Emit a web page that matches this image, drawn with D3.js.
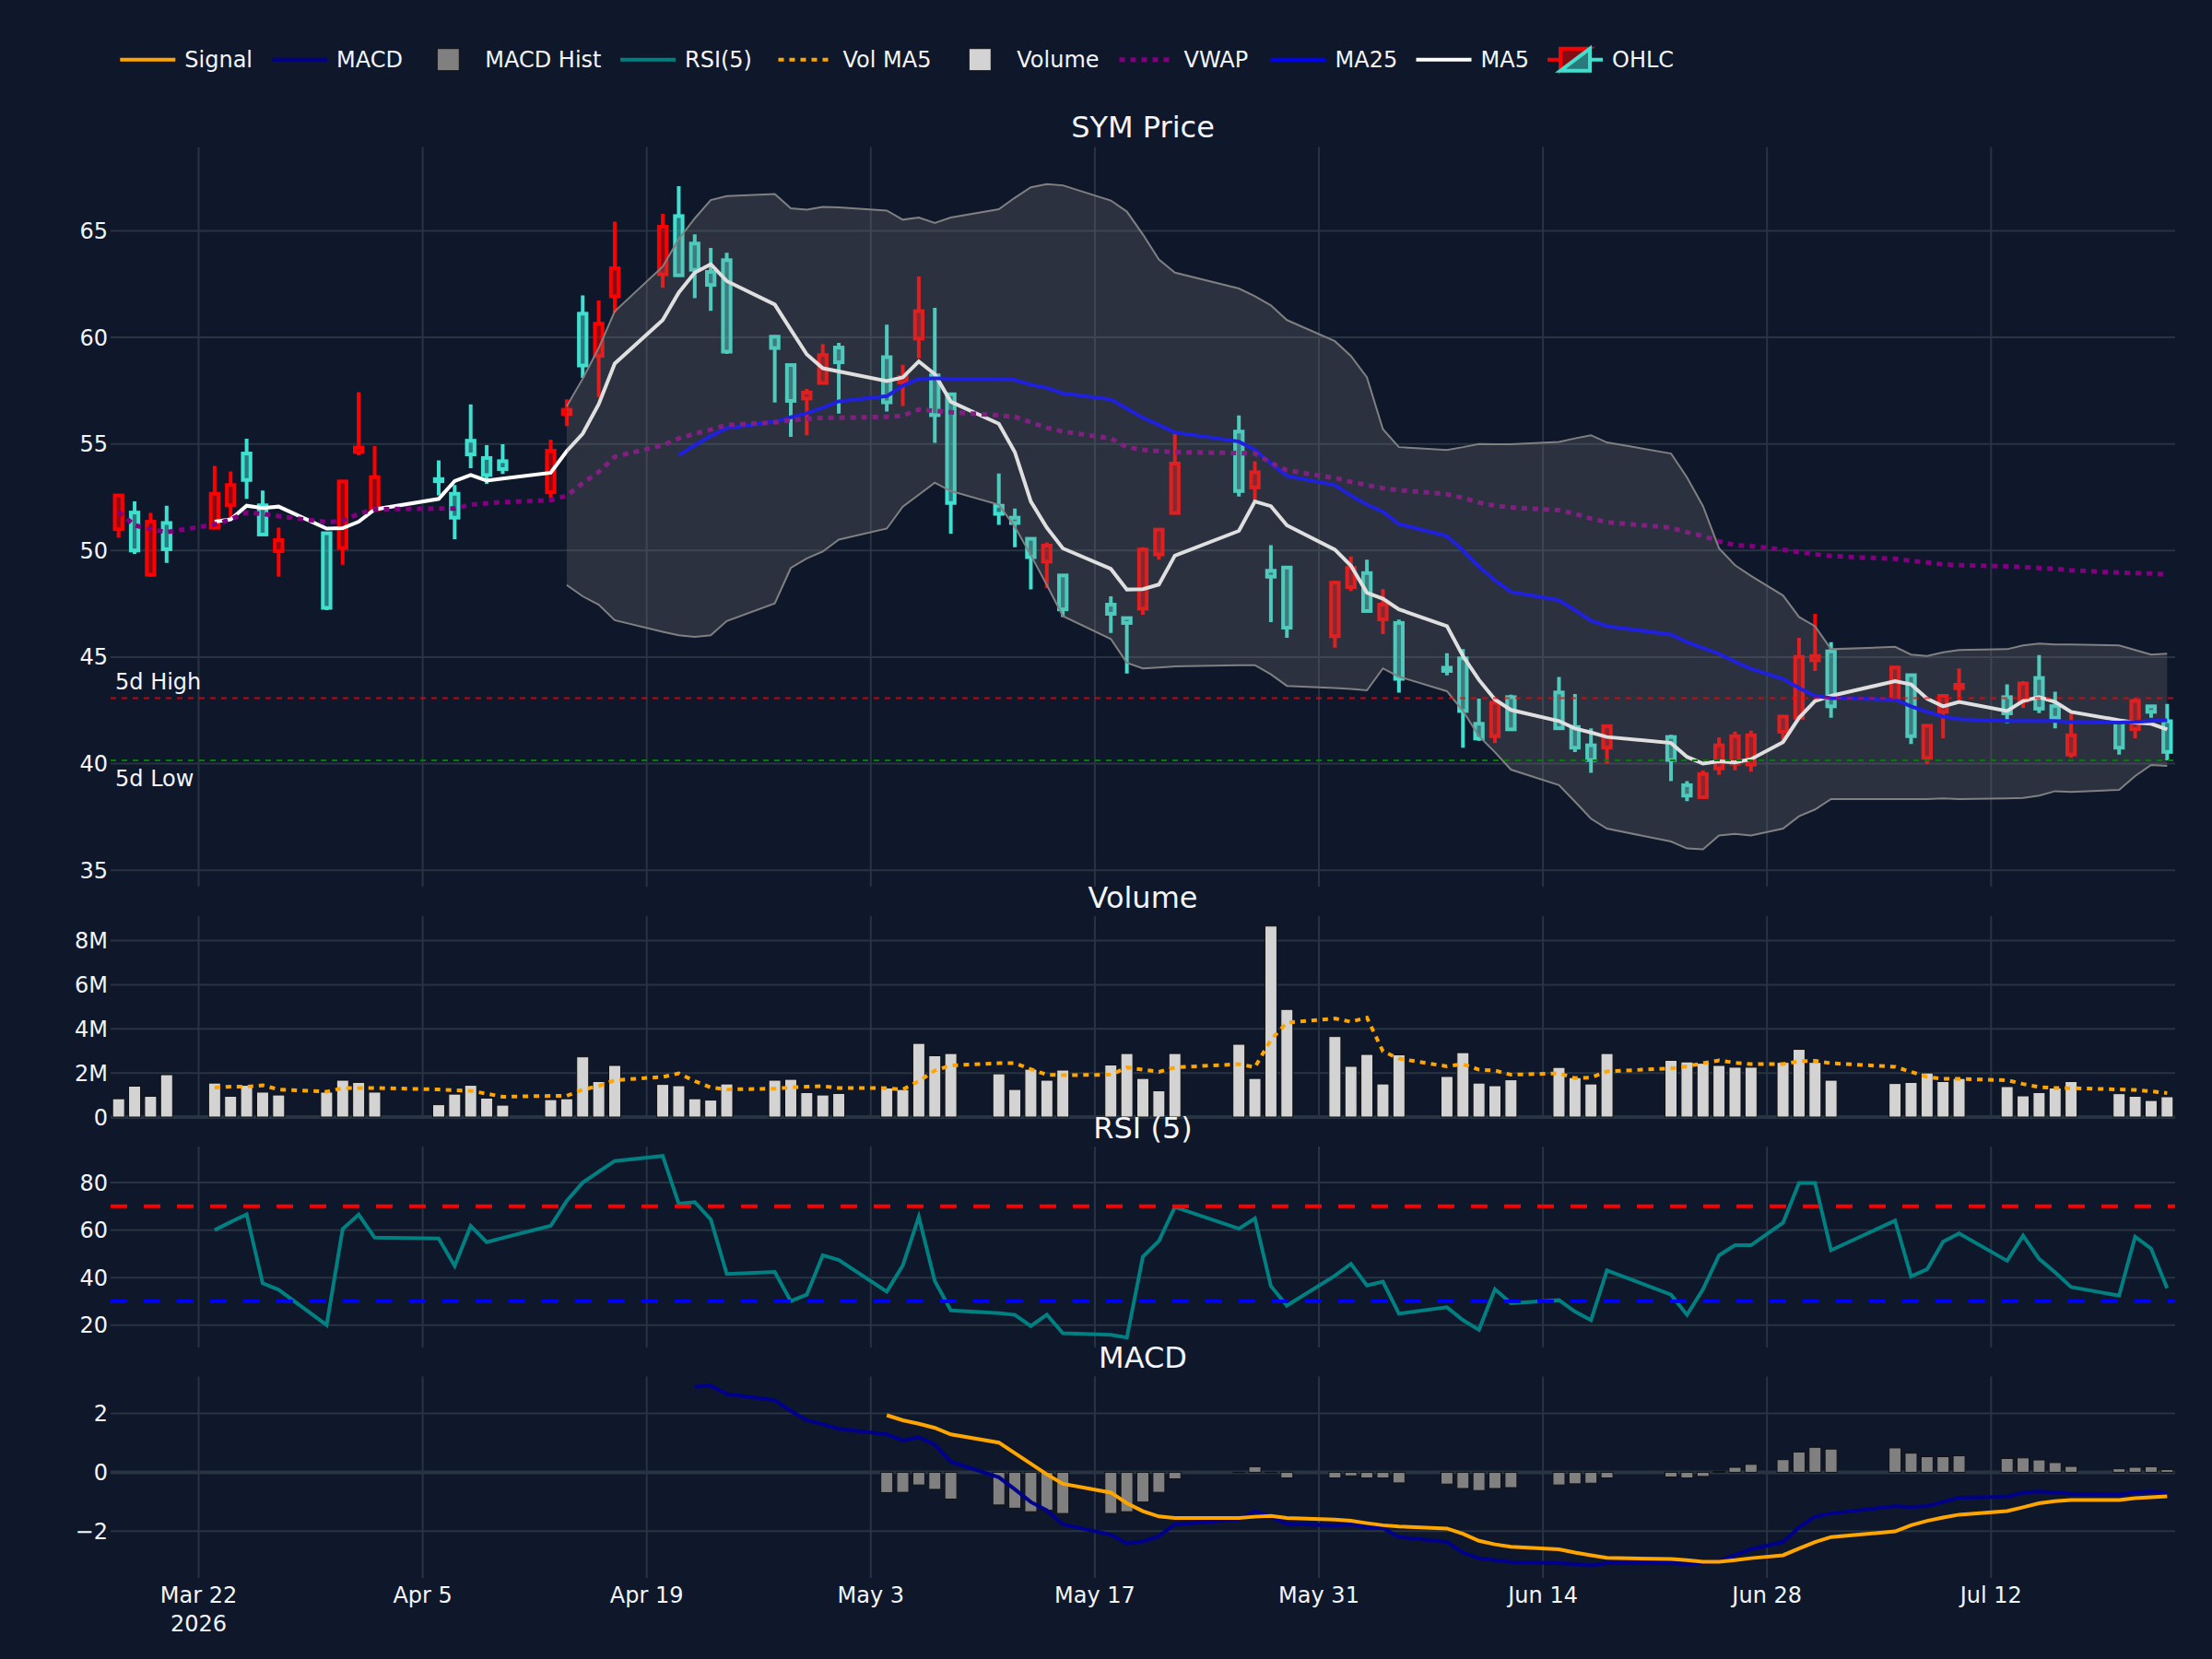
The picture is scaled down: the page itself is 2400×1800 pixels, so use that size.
<!DOCTYPE html>
<html>
<head>
<meta charset="utf-8">
<title>SYM Price</title>
<script src="https://cdnjs.cloudflare.com/ajax/libs/d3/7.8.5/d3.min.js"></script>
<style>
  html, body { margin: 0; padding: 0; background: #0f172a; }
  svg { display: block; }
  text { font-family: "DejaVu Sans", Verdana, sans-serif; fill: #f2f5fa; }
</style>
</head>
<body>
<script>
// ---------- DATA ----------
var dates = [
  "2026-03-17","2026-03-18","2026-03-19","2026-03-20","2026-03-23","2026-03-24","2026-03-25","2026-03-26","2026-03-27","2026-03-30","2026-03-31",
  "2026-04-01","2026-04-02","2026-04-06","2026-04-07","2026-04-08","2026-04-09","2026-04-10","2026-04-13","2026-04-14","2026-04-15","2026-04-16",
  "2026-04-17","2026-04-20","2026-04-21","2026-04-22","2026-04-23","2026-04-24","2026-04-27","2026-04-28","2026-04-29","2026-04-30",
  "2026-05-01","2026-05-04","2026-05-05","2026-05-06","2026-05-07","2026-05-08","2026-05-11","2026-05-12","2026-05-13","2026-05-14","2026-05-15",
  "2026-05-18","2026-05-19","2026-05-20","2026-05-21","2026-05-22","2026-05-26","2026-05-27","2026-05-28","2026-05-29",
  "2026-06-01","2026-06-02","2026-06-03","2026-06-04","2026-06-05","2026-06-08","2026-06-09","2026-06-10","2026-06-11","2026-06-12","2026-06-15",
  "2026-06-16","2026-06-17","2026-06-18","2026-06-22","2026-06-23","2026-06-24","2026-06-25","2026-06-26","2026-06-27","2026-06-29","2026-06-30",
  "2026-07-01","2026-07-02","2026-07-06","2026-07-07","2026-07-08","2026-07-09","2026-07-10","2026-07-13","2026-07-14","2026-07-15","2026-07-16",
  "2026-07-17","2026-07-20","2026-07-21","2026-07-22","2026-07-23"
];

var openP = [
  52.58, 50.0, 51.35, 50.06, 52.66, 53.07, 53.31, 50.75, 50.49, 47.31, 53.24,
  54.83, 53.44, 53.25, 51.54, 54.51, 53.54, 53.82, 54.68, 56.6, 58.68, 60.64, 63.24, 65.19, 62.91, 63.17, 62.46, 59.33, 59.5, 57.02, 57.41, 59.17,
  58.83, 56.95, 58.14, 61.23, 56.35, 52.23, 51.72, 51.29, 49.69, 50.23, 47.24, 47.03, 46.6, 50.04, 50.98, 54.08, 52.79, 53.67, 48.77, 46.38,
  48.49, 49.18, 47.16, 47.46, 43.98, 44.35, 42.47, 41.18, 42.86, 41.61, 41.66, 40.75, 40.17, 41.76, 40.17, 38.5, 39.51, 40.86, 41.29, 41.33, 42.21, 45.01,
  45.05, 42.69, 44.51, 41.29, 41.78, 43.18, 43.7, 42.36, 43.76, 42.58, 42.15, 41.33, 40.75, 42.94, 42.43, 40.55
];
var highP = [
  52.6, 52.3, 51.76, 52.1, 53.97, 53.71, 55.24, 52.81, 51.07, 50.85, 53.26,
  57.43, 54.9, 54.23, 53.07, 56.85, 54.94, 54.98, 55.2, 57.09, 61.97, 61.73, 65.43, 65.8, 67.09, 64.83, 64.2, 63.97, 60.1, 58.72, 57.58, 59.69,
  59.74, 60.6, 58.71, 62.85, 61.39, 57.35, 53.61, 51.97, 50.57, 50.38, 48.85, 47.85, 46.87, 50.15, 51.0, 55.46, 56.34, 54.19, 50.25, 49.22,
  48.58, 49.72, 49.57, 48.19, 46.76, 45.18, 45.37, 43.05, 43.01, 43.23, 44.07, 43.27, 41.66, 41.78, 41.35, 39.18, 39.68, 41.22, 41.5, 41.55, 42.25, 45.91,
  47.03, 45.7, 44.55, 44.17, 41.8, 43.2, 44.47, 43.72, 43.87, 45.09, 43.38, 42.35, 42.01, 43.07, 42.73, 42.8
];
var lowP = [
  50.6, 49.84, 48.77, 49.42, 51.0, 51.54, 52.42, 50.72, 48.77, 47.2, 49.33,
  54.47, 51.9, 52.58, 50.53, 53.86, 53.13, 53.59, 52.47, 55.84, 58.1, 57.2, 61.17, 62.33, 62.88, 61.84, 61.24, 59.22, 56.94, 55.33, 55.41, 57.84,
  56.42, 56.52, 56.78, 59.02, 55.05, 50.79, 51.2, 50.15, 48.17, 48.23, 46.88, 46.13, 44.23, 46.99, 49.57, 51.74, 52.53, 52.36, 46.64, 45.91,
  45.44, 48.1, 47.14, 46.08, 43.33, 44.14, 40.75, 41.07, 40.97, 41.58, 41.62, 40.54, 39.57, 40.0, 39.18, 38.24, 38.34, 39.47, 39.69, 39.62, 41.01, 42.13,
  44.35, 42.15, 43.0, 40.92, 39.99, 41.19, 43.01, 41.89, 42.62, 42.37, 41.66, 40.27, 40.42, 41.19, 42.15, 40.15
];
var closeP = [
  51.0, 51.78, 48.86, 51.29, 51.07, 52.12, 54.55, 52.12, 49.97, 50.81, 50.12,
  54.62, 51.93, 53.35, 52.66, 55.15, 54.34, 54.19, 52.73, 56.4, 61.11, 59.13, 61.93, 62.96, 65.69, 64.4, 63.07, 63.62, 60.03, 58.7, 57.13, 57.86,
  59.52, 59.07, 57.89, 59.94, 58.22, 57.33, 52.1, 51.54, 50.55, 49.48, 48.83, 47.46, 46.83, 47.27, 49.82, 51.76, 55.58, 52.96, 49.05, 49.2,
  45.98, 48.28, 48.94, 46.77, 46.6, 44.5, 44.94, 41.87, 41.29, 43.12, 43.34, 41.72, 40.86, 40.75, 41.25, 38.99, 38.43, 39.78, 40.0, 39.96, 41.5, 42.15,
  44.85, 45.27, 43.01, 44.15, 40.27, 42.43, 43.54, 43.12, 42.94, 44.02, 42.7, 40.43, 41.99, 41.62, 42.69, 41.99
];

// volume in millions of shares
var volumeM = [
  0.83, 1.40, 0.94, 1.92, 1.54, 0.94, 1.44, 1.13, 1.0, 1.13, 1.67,
  1.57, 1.13, 0.56, 1.04, 1.44, 0.86, 0.54, 0.79, 0.83, 2.73, 1.61, 2.34, 1.48, 1.42, 0.83, 0.77, 1.5, 1.67, 1.71, 1.11, 1.0,
  1.07, 1.32, 1.25, 3.34, 2.78, 2.88, 1.96, 1.25, 2.17, 1.67, 2.13, 2.36, 2.88, 1.75, 1.19, 2.88, 3.3, 1.75, 8.66, 4.88,
  3.65, 2.3, 2.84, 1.5, 2.82, 1.84, 2.92, 1.54, 1.42, 1.69, 2.25, 1.79, 1.5, 2.88, 2.57, 2.5, 2.44, 2.34, 2.26, 2.26, 2.48, 3.07,
  2.48, 1.67, 1.52, 1.57, 2.0, 1.61, 1.75, 1.38, 0.96, 1.11, 1.32, 1.61, 1.06, 0.94, 0.75, 0.92
];

// indicator series start later than the prices, leading days are empty
function pad(n, arr) { return d3.range(n).map(function () { return null }).concat(arr) }

var ma5 = pad(4, [
  51.35, 51.46, 52.1, 51.99, 52.06, 51.03, 51.05,
  51.35, 51.93, 52.42, 53.26, 53.54, 53.28, 53.37, 53.65, 54.66, 55.48, 56.87, 58.77, 60.81, 62.1, 63.04, 63.43, 62.64, 61.54, 60.36, 59.2, 58.55,
  58.4, 57.95, 58.12, 58.87, 58.27, 56.98, 55.95, 54.62, 52.3, 51.07, 50.1, 49.14, 48.17, 48.19, 48.4, 49.76, 50.92, 52.3, 52.08, 51.18,
  50.04, 49.29, 48.02, 47.74, 47.24, 46.45, 45.05, 43.93, 43.01, 42.52, 42.0, 41.65, 41.46, 41.25, 40.97, 40.32, 40.0, 40.11, 40.06, 40.21, 41.01, 42.15,
  42.94, 43.18, 43.87, 43.72, 43.05, 42.69, 42.9, 42.47, 42.94, 43.12, 42.9, 42.43, 42.04, 41.93, 41.87, 41.61
]);
var ma25 = pad(24, [
  54.47, 54.94, 55.37, 55.74, 56.04, 56.25, 56.44, 56.7,
  57.0, 57.24, 57.73, 58.06, 58.08, 58.06, 58.04, 58.0, 57.78, 57.63, 57.37, 57.09, 56.66, 56.23, 55.89, 55.54, 55.11, 54.73, 54.08, 53.5,
  53.07, 52.58, 52.15, 51.82, 51.24, 50.68, 50.0, 49.24, 48.6, 48.06, 47.67, 47.2, 46.71, 46.45, 46.06, 45.7, 45.42, 45.16, 44.78, 44.45, 43.98, 43.55,
  43.18, 43.07, 43.01, 42.69, 42.43, 42.21, 42.09, 42.0, 42.0, 42.0, 42.0, 41.96, 41.93, 41.96, 42.0, 42.04
]);
var vwap = [
  51.82, 51.18, 51.0, 50.86, 51.22, 51.46, 51.78, 51.72, 51.61, 51.33, 51.39,
  51.72, 51.93, 51.97, 51.97, 52.15, 52.21, 52.27, 52.36, 52.57, 53.16, 53.69, 54.4, 54.94, 55.26, 55.48, 55.67, 55.89, 56.01, 56.12, 56.17, 56.23,
  56.23, 56.27, 56.32, 56.62, 56.55, 56.49, 56.34, 56.27, 56.01, 55.76, 55.58, 55.26, 54.85, 54.73, 54.66, 54.62, 54.57, 54.55, 54.12, 53.76,
  53.4, 53.22, 53.07, 52.92, 52.83, 52.64, 52.47, 52.25, 52.1, 52.02, 51.89, 51.72, 51.5, 51.33, 51.07, 50.86, 50.68, 50.43, 50.25, 50.21, 50.04, 49.93,
  49.82, 49.74, 49.61, 49.52, 49.44, 49.35, 49.31, 49.26, 49.22, 49.18, 49.14, 49.07, 48.96, 48.94, 48.92, 48.88
];
var bbUpper = pad(19, [
  56.77, 58.06, 59.5, 61.22, 63.32, 64.61, 65.58, 66.44, 66.63, 66.72, 66.05, 65.99, 66.12,
  66.1, 65.95, 65.52, 65.62, 65.37, 65.62, 66.01, 66.55, 67.04, 67.19, 67.13, 66.42, 65.9, 64.83, 63.65, 63.04, 62.29, 61.93, 61.5, 60.81,
  59.82, 59.13, 58.12, 55.69, 54.85, 54.72, 54.85, 55.0, 54.98, 54.98, 55.09, 55.26, 55.41, 55.07, 54.55, 53.43, 52.08, 50.1, 49.31, 48.81, 47.89, 46.88,
  46.45, 45.37, 45.48, 45.12, 45.05, 45.22, 45.33, 45.37, 45.55, 45.63, 45.59, 45.59, 45.55, 45.33, 45.12, 45.16
]);
var bbLower = pad(19, [
  48.38, 47.85, 47.46, 46.73, 46.19, 46.02, 45.95, 46.02, 46.69, 47.52, 49.18, 49.63, 49.95,
  50.51, 51.03, 52.06, 52.62, 53.18, 52.79, 52.15, 51.11, 49.78, 48.38, 46.92, 45.85, 44.73, 44.47, 44.51, 44.56, 44.62, 44.62, 44.19, 43.65,
  43.55, 43.5, 43.44, 44.47, 44.08, 43.4, 42.47, 41.29, 40.54, 39.72, 38.99, 38.22, 37.42, 36.95, 36.35, 36.02, 35.98, 36.63, 36.71, 36.63, 36.95, 37.53,
  37.85, 38.34, 38.34, 38.34, 38.34, 38.37, 38.34, 38.37, 38.39, 38.5, 38.71, 38.67, 38.77, 39.42, 39.94, 39.89
]);
var volMa5M = pad(4, [
  1.34, 1.38, 1.38, 1.44, 1.25, 1.15, 1.31,
  1.32, 1.32, 1.25, 1.21, 1.19, 1.06, 0.92, 0.96, 0.96, 1.25, 1.4, 1.67, 1.82, 1.98, 1.63, 1.34, 1.25, 1.29, 1.34, 1.38, 1.4,
  1.32, 1.31, 1.25, 1.63, 2.11, 2.34, 2.44, 2.44, 2.17, 1.92, 1.9, 1.92, 2.25, 2.15, 2.05, 2.25, 2.4, 2.26, 3.5, 4.28,
  4.47, 4.32, 4.51, 2.98, 2.65, 2.3, 2.4, 2.15, 2.11, 1.92, 1.98, 1.77, 1.79, 2.07, 2.21, 2.3, 2.44, 2.57, 2.46, 2.4, 2.4, 2.53,
  2.55, 2.44, 2.28, 2.05, 1.82, 1.73, 1.73, 1.67, 1.5, 1.36, 1.32, 1.31, 1.25, 1.23, 1.17, 1.09
]);
var rsi5 = pad(4, [
  60.0, 63.4, 66.6, 37.6, 34.9, 20.0, 60.4,
  66.5, 56.8, 56.5, 44.9, 61.8, 54.9, 56.7, 61.8, 72.3, 80.0, 84.6, 89.1, 91.2, 71.1, 71.8, 64.5, 41.5, 42.4, 30.1, 32.8, 49.4,
  47.4, 34.1, 45.1, 65.6, 38.5, 26.2, 25.0, 24.3, 19.6, 24.4, 16.6, 15.9, 14.8, 48.8, 55.4, 69.7, 60.6, 64.9, 36.4, 28.2,
  40.8, 45.8, 36.7, 38.3, 24.8, 27.5, 22.1, 18.0, 35.1, 29.2, 30.5, 25.7, 22.1, 43.0, 32.8, 24.3, 35.1, 49.4, 53.6, 53.6, 63.1, 79.8,
  79.8, 51.5, 64.0, 40.5, 43.5, 55.1, 58.6, 47.1, 57.7, 47.9, 42.2, 36.0, 32.4, 57.2, 52.2, 35.5
]);
var macdLine = pad(25, [
  2.91, 2.94, 2.66, 2.45, 2.09, 1.77, 1.63,
  1.48, 1.29, 1.08, 1.19, 0.94, 0.36, -0.17, -0.58, -1.01, -1.29, -1.77, -2.12, -2.42, -2.35, -2.17, -1.77, -1.61, -1.32, -1.51, -1.76,
  -1.8, -1.77, -1.87, -1.9, -2.2, -2.37, -2.73, -2.92, -2.99, -3.05, -3.09, -3.12, -3.17, -3.09, -3.09, -3.12, -3.09, -3.02, -2.81, -2.62, -2.37, -1.87,
  -1.51, -1.4, -1.15, -1.18, -1.15, -1.01, -0.86, -0.83, -0.69, -0.65, -0.69, -0.73, -0.76, -0.68, -0.65, -0.72
]);
var signalLine = pad(33, [
  1.94, 1.77, 1.65, 1.51, 1.29, 1.01, 0.65, 0.29, -0.07, -0.39, -0.69, -1.05, -1.32, -1.5, -1.55, -1.55, -1.51, -1.48, -1.55,
  -1.61, -1.65, -1.73, -1.8, -1.84, -1.91, -2.09, -2.33, -2.45, -2.53, -2.62, -2.73, -2.82, -2.91, -2.95, -2.99, -3.04, -3.04, -2.99, -2.92, -2.82, -2.59,
  -2.37, -2.2, -2.01, -1.8, -1.65, -1.54, -1.44, -1.32, -1.19, -1.05, -0.98, -0.94, -0.94, -0.88, -0.85, -0.82
]);
var macdHist = pad(33, [
  -0.69, -0.68, -0.43, -0.58, -0.91, -1.11, -1.22, -1.34, -1.29, -1.4, -1.4, -1.34, -1.01, -0.68, -0.22, -0.01, 0.19, -0.01, -0.19,
  -0.19, -0.12, -0.19, -0.19, -0.36, -0.4, -0.55, -0.62, -0.55, -0.52, -0.43, -0.39, -0.37, -0.19, -0.16, -0.19, -0.14, 0.03, 0.17, 0.27, 0.43, 0.69,
  0.85, 0.79, 0.83, 0.65, 0.53, 0.53, 0.56, 0.47, 0.49, 0.42, 0.33, 0.2, 0.12, 0.17, 0.19, 0.09
]);

var high5d = 43.07, low5d = 40.15;
var rsiLevels = [70, 30];

// ---------- LAYOUT ----------
var width = 2400, height = 1800, left = 120, right = 2360;
var bg = "#0f172a", gridColor = "#283442";
var incColor = "#40E0D0", decColor = "#FF0000";

var svg = d3.select("body").append("svg")
    .attr("width", width)
    .attr("height", height);

svg.append("rect").attr("width", width).attr("height", height).attr("fill", bg);

var parseDay = d3.utcParse("%Y-%m-%d");
var days = dates.map(parseDay);
var halfDay = 12 * 3600 * 1000;

var x = d3.scaleUtc()
    .domain([+parseDay("2026-03-16") + halfDay, +parseDay("2026-07-23") + halfDay])
    .range([left, right]);

var xTicks = d3.utcDay.range(parseDay("2026-03-22"), parseDay("2026-07-20"), 14);
var fmtDay = d3.utcFormat("%b %-d");

function panel(top, bottom, domain, ticks, fmt, zero) {
  var y = d3.scaleLinear().domain(domain).range([bottom, top]);
  var g = svg.append("g");

  g.selectAll(".vgrid").data(xTicks).enter().append("line")
    .attr("x1", x).attr("x2", x)
    .attr("y1", top).attr("y2", bottom)
    .attr("stroke", gridColor).attr("stroke-width", 2);

  g.selectAll(".hgrid").data(ticks).enter().append("line")
    .attr("x1", left).attr("x2", right)
    .attr("y1", y).attr("y2", y)
    .attr("stroke", gridColor).attr("stroke-width", 2);

  if (zero) {
    g.append("line")
      .attr("x1", left).attr("x2", right)
      .attr("y1", y(0)).attr("y2", y(0))
      .attr("stroke", gridColor).attr("stroke-width", 4);
  }

  g.selectAll(".ylab").data(ticks).enter().append("text")
    .attr("x", left - 3)
    .attr("y", function (d) { return y(d) + 8.5 })
    .attr("text-anchor", "end")
    .attr("font-size", 24)
    .text(fmt);
  return y;
}

var yPrice = panel(159.5, 962, [34.23, 68.93], [35, 40, 45, 50, 55, 60, 65], String, false);
var yVol = panel(994, 1212, [0, 9.11], [0, 2, 4, 6, 8], function (d) { return d === 0 ? "0" : d + "M" }, true);
var yRsi = panel(1244, 1462, [10.57, 95.17], [20, 40, 60, 80], String, false);
var yMacd = panel(1493.4, 1712, [-3.59, 3.26], [-2, 0, 2], function (d) { return d < 0 ? "\u2212" + (-d) : String(d) }, true);

function series(values, y) {
  return d3.line()
    .defined(function (d, i) { return values[i] != null })
    .x(function (d, i) { return x(days[i]) })
    .y(function (d, i) { return y(values[i]) })(values);
}

// ---------- PRICE ----------
var candles = days.map(function (d, i) {
  return { date: d, o: openP[i], h: highP[i], l: lowP[i], c: closeP[i] };
});

var candleG = svg.append("g").selectAll("g")
    .data(candles)
    .enter().append("g");

candleG.append("path")
    .attr("d", function (d) {
      var cx = x(d.date);
      var top = yPrice(Math.max(d.o, d.c)), bot = yPrice(Math.min(d.o, d.c));
      return "M" + cx + "," + yPrice(d.h) + "V" + top + "M" + cx + "," + bot + "V" + yPrice(d.l);
    })
    .attr("stroke", function (d) { return d.c >= d.o ? incColor : decColor })
    .attr("stroke-width", 4)
    .attr("fill", "none");

candleG.append("rect")
    .attr("x", function (d) { return x(d.date) - 4.15 })
    .attr("width", 8.3)
    .attr("y", function (d) { return yPrice(Math.max(d.o, d.c)) })
    .attr("height", function (d) { return Math.max(yPrice(Math.min(d.o, d.c)) - yPrice(Math.max(d.o, d.c)), 0.5) })
    .attr("fill", function (d) { return d.c >= d.o ? "rgba(64,224,208,0.5)" : "rgba(255,0,0,0.5)" })
    .attr("stroke", function (d) { return d.c >= d.o ? incColor : decColor })
    .attr("stroke-width", 4);

svg.append("path").attr("d", series(ma5, yPrice))
    .attr("fill", "none").attr("stroke", "#ffffff").attr("stroke-width", 4);
svg.append("path").attr("d", series(ma25, yPrice))
    .attr("fill", "none").attr("stroke", "#0000ff").attr("stroke-width", 4);
svg.append("path").attr("d", series(vwap, yPrice))
    .attr("fill", "none").attr("stroke", "#800080").attr("stroke-width", 5).attr("stroke-dasharray", "6,6");

// bollinger band sits on top of the candles
var bandIdx = d3.range(days.length).filter(function (i) { return bbUpper[i] != null });
var band = d3.area()
    .x(function (i) { return x(days[i]) })
    .y0(function (i) { return yPrice(bbLower[i]) })
    .y1(function (i) { return yPrice(bbUpper[i]) });

svg.append("path").attr("d", band(bandIdx)).attr("fill", "rgba(128,128,128,0.25)");
svg.append("path").attr("d", series(bbUpper, yPrice))
    .attr("fill", "none").attr("stroke", "#808080").attr("stroke-width", 2);
svg.append("path").attr("d", series(bbLower, yPrice))
    .attr("fill", "none").attr("stroke", "#808080").attr("stroke-width", 2);

svg.append("line")
    .attr("x1", left).attr("x2", right)
    .attr("y1", yPrice(high5d)).attr("y2", yPrice(high5d))
    .attr("stroke", "#ff0000").attr("stroke-opacity", 0.75).attr("stroke-width", 2).attr("stroke-dasharray", "6,6");
svg.append("line")
    .attr("x1", left).attr("x2", right)
    .attr("y1", yPrice(low5d)).attr("y2", yPrice(low5d))
    .attr("stroke", "#008000").attr("stroke-width", 2).attr("stroke-dasharray", "6,6");

svg.append("text").attr("x", 125).attr("y", yPrice(high5d) - 10)
    .attr("font-size", 24).text("5d High");
svg.append("text").attr("x", 125).attr("y", yPrice(low5d) + 28)
    .attr("font-size", 24).text("5d Low");

// ---------- VOLUME ----------
svg.append("g").selectAll("rect")
    .data(volumeM)
    .enter().append("rect")
    .attr("x", function (d, i) { return x(days[i]) - 6.5 })
    .attr("width", 13)
    .attr("y", function (d) { return yVol(d) })
    .attr("height", function (d) { return yVol(0) - yVol(d) })
    .attr("fill", "#d3d3d3")
    .attr("stroke", "#111111").attr("stroke-width", 1);

svg.append("path").attr("d", series(volMa5M, yVol))
    .attr("fill", "none").attr("stroke", "#FFA500").attr("stroke-width", 4).attr("stroke-dasharray", "6,6");

// ---------- RSI ----------
svg.append("path").attr("d", series(rsi5, yRsi))
    .attr("fill", "none").attr("stroke", "#008080").attr("stroke-width", 4);

svg.selectAll(".rsiLevel").data(rsiLevels).enter().append("line")
    .attr("x1", left).attr("x2", right)
    .attr("y1", yRsi).attr("y2", yRsi)
    .attr("stroke", function (d) { return d > 50 ? "#ff0000" : "#0000ff" })
    .attr("stroke-width", 4).attr("stroke-dasharray", "18,18");

// ---------- MACD ----------
var histBars = days.map(function (d, i) { return { date: d, v: macdHist[i] } })
    .filter(function (d) { return d.v != null });

svg.append("g").selectAll("rect")
    .data(histBars)
    .enter().append("rect")
    .attr("x", function (d) { return x(d.date) - 6.5 })
    .attr("width", 13)
    .attr("y", function (d) { return Math.min(yMacd(d.v), yMacd(0)) })
    .attr("height", function (d) { return Math.abs(yMacd(d.v) - yMacd(0)) })
    .attr("fill", "#808080")
    .attr("stroke", "#111111").attr("stroke-width", 1);

svg.append("path").attr("d", series(macdLine, yMacd))
    .attr("fill", "none").attr("stroke", "#00008B").attr("stroke-width", 4);
svg.append("path").attr("d", series(signalLine, yMacd))
    .attr("fill", "none").attr("stroke", "#FFA500").attr("stroke-width", 4);

// ---------- X AXIS ----------
svg.append("g").selectAll("text")
    .data(xTicks)
    .enter().append("text")
    .attr("x", x)
    .attr("y", 1739)
    .attr("text-anchor", "middle")
    .attr("font-size", 24)
    .text(fmtDay);

svg.append("text").attr("x", x(xTicks[0])).attr("y", 1770)
    .attr("text-anchor", "middle").attr("font-size", 24).text("2026");

// ---------- TITLES ----------
var titles = [["SYM Price", 149], ["Volume", 985], ["RSI (5)", 1235], ["MACD", 1484]];
svg.selectAll(".title").data(titles).enter().append("text")
    .attr("x", (left + right) / 2)
    .attr("y", function (d) { return d[1] })
    .attr("text-anchor", "middle")
    .attr("font-size", 32)
    .text(function (d) { return d[0] });

// ---------- LEGEND ----------
var legendItems = [
  { label: "Signal", kind: "line", color: "#FFA500", w: 4 },
  { label: "MACD", kind: "line", color: "#00008B", w: 4 },
  { label: "MACD Hist", kind: "bar", color: "#808080" },
  { label: "RSI(5)", kind: "line", color: "#008080", w: 4 },
  { label: "Vol MA5", kind: "line", color: "#FFA500", w: 4, dash: "6,6" },
  { label: "Volume", kind: "bar", color: "#d3d3d3" },
  { label: "VWAP", kind: "line", color: "#800080", w: 5, dash: "6,6" },
  { label: "MA25", kind: "line", color: "#0000ff", w: 4 },
  { label: "MA5", kind: "line", color: "#ffffff", w: 4 },
  { label: "OHLC", kind: "candle" }
];
var legendX = [120.3, 285, 446.3, 663, 834.5, 1023.3, 1204.5, 1368.5, 1526.5, 1669];
var legendY = 64.7;

var items = svg.append("g").selectAll("g")
    .data(legendItems)
    .enter().append("g")
    .attr("transform", function (d, i) { return "translate(" + legendX[i] + "," + legendY + ")" });

items.each(function (d) {
  var g = d3.select(this);
  if (d.kind === "line") {
    g.append("line").attr("x1", 10).attr("x2", 70)
      .attr("stroke", d.color).attr("stroke-width", d.w)
      .attr("stroke-dasharray", d.dash || null);
  } else if (d.kind === "bar") {
    g.append("rect").attr("x", 28).attr("y", -12).attr("width", 24).attr("height", 24)
      .attr("fill", d.color).attr("stroke", "#111111").attr("stroke-width", 1);
  } else {
    var c = g.append("g").attr("transform", "translate(40,0) scale(2)");
    c.append("path").attr("d", "M-15,0H-8M-8,6V-6H8Z")
      .attr("fill", "rgba(255,0,0,0.5)").attr("stroke", decColor).attr("stroke-width", 2);
    c.append("path").attr("d", "M15,0H8M8,-6V6H-8Z")
      .attr("fill", "rgba(64,224,208,0.5)").attr("stroke", incColor).attr("stroke-width", 2);
  }
  g.append("text").attr("x", 80).attr("y", 8.5).attr("font-size", 24).text(d.label);
});
</script>
</body>
</html>
